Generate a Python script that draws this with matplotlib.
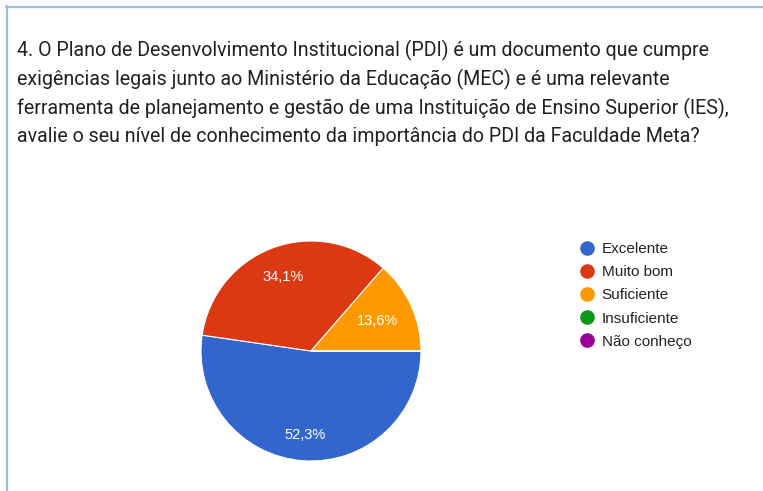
import matplotlib
matplotlib.use("Agg")
import matplotlib.pyplot as plt
from matplotlib.lines import Line2D
import numpy as np

# survey answers and shares (%)
categories = ["Excelente", "Muito bom", "Suficiente", "Insuficiente", "Não conheço"]
shares = [52.3, 34.1, 13.6, 0.0, 0.0]
colors = ["#3366CC", "#DC3912", "#FF9900", "#109618", "#990099"]
title_lines = [
    "4. O Plano de Desenvolvimento Institucional (PDI) é um documento que cumpre",
    "exigências legais junto ao Ministério da Educação (MEC) e é uma relevante",
    "ferramenta de planejamento e gestão de uma Instituição de Ensino Superior (IES),",
    "avalie o seu nível de conhecimento da importância do PDI da Faculdade Meta?",
]
# how far from the centre each percentage sits (fraction of radius)
label_dist = [0.77, 0.72, 0.66, 0.7, 0.7]

W, H = 763, 491
fig = plt.figure(figsize=(W / 100, H / 100), dpi=100)
fig.patch.set_facecolor("white")

# card border (top and left)
border = "#9DBDEB"
fig.add_artist(Line2D([6 / W, 1], [1 - 6.5 / H, 1 - 6.5 / H], color=border, lw=1.6))
fig.add_artist(Line2D([6.5 / W, 6.5 / W], [0, 1 - 6 / H], color=border, lw=1.6))

# question text
for i, line in enumerate(title_lines):
    fig.text(17 / W, 1 - (50 + i * 29) / H, line, fontsize=14.1,
             family=["Roboto", "DejaVu Sans"], color="#202124", va="center", ha="left")

# pie
cx, cy, r = 311, 351, 110
ax = fig.add_axes([(cx - r) / W, (H - cy - r) / H, 2 * r / W, 2 * r / H])


def fmt(p):
    return "" if p < 0.5 else ("%.1f%%" % p).replace(".", ",")


wedges, texts, autotexts = ax.pie(
    shares, colors=colors, startangle=0, counterclock=False,
    autopct=fmt, pctdistance=0.72,
    wedgeprops=dict(edgecolor="white", linewidth=0.8),
    textprops=dict(color="white", fontsize=10.5, family=["Liberation Sans", "DejaVu Sans"]),
)
# nudge each label along its wedge's middle angle
for w, t, d in zip(wedges, autotexts, label_dist):
    ang = np.deg2rad((w.theta1 + w.theta2) / 2)
    t.set_position((d * np.cos(ang), d * np.sin(ang)))
ax.set_xlim(-1, 1)
ax.set_ylim(-1, 1)
ax.set_aspect("equal")

# legend
handles = [Line2D([], [], marker="o", ls="", markersize=9.5, markerfacecolor=c,
                  markeredgecolor=c) for c in colors]
fig.legend(handles, categories, loc="upper left",
           bbox_to_anchor=(571 / W, 1 - 236 / H), frameon=False,
           prop=dict(family=["Liberation Sans", "DejaVu Sans"], size=11),
           labelcolor="#222222", handletextpad=0.3, labelspacing=0.6,
           handlelength=1.3, borderaxespad=0)

fig.savefig("out.png", dpi=100, facecolor="white")
